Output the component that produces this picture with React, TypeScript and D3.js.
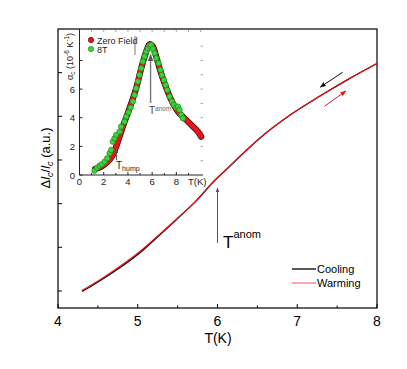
import * as d3 from "d3";

// main curve: relative length change vs temperature
const mainT = [4.3, 4.46, 4.71, 5.05, 5.22, 5.47, 5.72, 5.97, 6.12, 6.28, 6.53, 6.91, 7.29, 7.66, 8.0];
const warming = [0.01, 0.18, 0.48, 0.94, 1.21, 1.62, 2.04, 2.54, 2.8, 3.08, 3.5, 4.03, 4.47, 4.87, 5.21];
const cooling = [-0.01, 0.16, 0.45, 0.91, 1.19, 1.61, 2.04, 2.54, 2.8, 3.08, 3.5, 4.03, 4.47, 4.87, 5.21];
const mainXTicks = [4, 5, 6, 7, 8];
const mainXMinor = [4.5, 5.5, 6.5, 7.5];
const mainYTicks = [0, 1, 2, 3, 4, 5];

// inset: thermal expansion coefficient
const zeroFieldT = [1.29, 1.79, 2.34, 2.75, 3.03, 3.58, 4.13, 4.68, 5.1, 5.51, 5.79, 6.06, 6.34, 6.61, 7.02, 7.58, 8.13, 8.68, 9.23, 9.78, 10.05];
const zeroFieldA = [0.42, 0.58, 0.93, 1.4, 1.98, 3.38, 4.66, 6.06, 7.46, 8.62, 9.14, 8.97, 8.27, 7.46, 6.41, 5.24, 4.43, 3.96, 3.5, 3.03, 2.68];
const field8T_T = [1.24, 1.46, 1.65, 1.85, 2.07, 2.29, 2.48, 2.62, 2.75, 2.89, 3.03, 3.31, 3.44, 3.72, 3.86, 4.05, 4.22, 4.41, 4.55, 4.68, 4.82, 4.96, 5.1, 5.23, 5.37, 5.51, 5.65, 5.79, 5.92, 6.06, 6.2, 6.34, 6.53, 6.69, 6.8, 6.97, 7.11, 7.25, 7.44, 7.63, 7.8, 7.99, 8.13, 8.26, 8.4, 8.54];
const field8T_A = [0.3, 0.51, 0.65, 0.75, 0.93, 1.17, 1.52, 1.75, 2.33, 2.56, 2.8, 3.03, 3.38, 3.73, 4.08, 4.38, 4.71, 5.13, 5.59, 6.06, 6.53, 6.99, 7.46, 7.93, 8.28, 8.62, 8.86, 9.04, 9.09, 8.81, 8.51, 8.16, 7.81, 7.34, 6.99, 6.64, 6.29, 5.94, 5.48, 5.13, 4.9, 4.71, 4.78, 4.55, 4.2, 3.96];
const insetXTicks = [0, 2, 4, 6, 8];
const insetYTicks = [0, 2, 4, 6];
const insetMinor = [1, 2, 3, 4, 5, 6, 7, 8, 9, 10];

const FONT = "'Liberation Sans', Arial, sans-serif";

export default function App() {
  const x = d3.scaleLinear().domain([4, 8]).range([58, 377]);
  const y = d3.scaleLinear().domain([-0.39, 6]).range([308, 29]);
  const ix = d3.scaleLinear().domain([0, 10.2]).range([79.5, 203]);
  const iy = d3.scaleLinear().domain([0, 10.2]).range([175, 29]);

  const mainLine = d3
    .line<number>()
    .x((_, i) => x(mainT[i]))
    .curve(d3.curveMonotoneX);
  const warmPath = mainLine.y((v) => y(v))(warming) as string;
  const coolPath = mainLine.y((v) => y(v))(cooling) as string;

  const zfPath = d3
    .line<number>()
    .x((t) => ix(t))
    .y((_, i) => iy(zeroFieldA[i]))
    .curve(d3.curveCatmullRom)(zeroFieldT) as string;

  return (
    <svg width={407} height={369} style={{ position: "absolute", left: 0, top: 0, background: "#fff" }} fontFamily={FONT}>
      <defs>
        <marker id="hk" viewBox="0 0 10 10" refX="9" refY="5" markerWidth="6" markerHeight="6" orient="auto">
          <path d="M0,1 L10,5 L0,9 z" fill="#111" />
        </marker>
        <marker id="hr" viewBox="0 0 10 10" refX="9" refY="5" markerWidth="6" markerHeight="6" orient="auto">
          <path d="M0,1 L10,5 L0,9 z" fill="#e8141c" />
        </marker>
        <marker id="hg" viewBox="0 0 10 10" refX="9" refY="5" markerWidth="5" markerHeight="6" orient="auto">
          <path d="M0,1 L10,5 L0,9 z" fill="#555" />
        </marker>
      </defs>

      {/* main frame */}
      <rect x={58} y={29} width={319} height={279} fill="none" stroke="#000" strokeWidth={1.2} />
      {mainXTicks.map((t) => (
        <g key={"mx" + t}>
          <line x1={x(t)} x2={x(t)} y1={308} y2={304} stroke="#000" />
          <text x={x(t)} y={326} fontSize={14} textAnchor="middle">{t}</text>
        </g>
      ))}
      {mainXMinor.map((t) => (
        <line key={"mm" + t} x1={x(t)} x2={x(t)} y1={308} y2={305.5} stroke="#000" />
      ))}
      {mainYTicks.map((v) => (
        <line key={"my" + v} x1={58} x2={62} y1={y(v)} y2={y(v)} stroke="#000" />
      ))}
      <text x={218} y={343} fontSize={14} textAnchor="middle">T(K)</text>
      <text transform="translate(50,158) rotate(-90)" fontSize={13} textAnchor="middle">
        Δ<tspan fontStyle="italic">l</tspan>
        <tspan fontSize={9} dy={3} fontStyle="italic">c</tspan>
        <tspan dy={-3}>/</tspan>
        <tspan fontStyle="italic">l</tspan>
        <tspan fontSize={9} dy={3} fontStyle="italic">c</tspan>
        <tspan dy={-3}> (a.u.)</tspan>
      </text>

      {/* main curves */}
      <path d={coolPath} fill="none" stroke="#000" strokeWidth={1.3} />
      <path d={warmPath} fill="none" stroke="#e8141c" strokeWidth={1.2} />

      {/* direction arrows */}
      <line x1={x(7.57)} y1={y(5.01)} x2={x(7.29)} y2={y(4.67)} stroke="#111" strokeWidth={1} markerEnd="url(#hk)" />
      <line x1={x(7.34)} y1={y(4.23)} x2={x(7.61)} y2={y(4.58)} stroke="#e8141c" strokeWidth={1} markerEnd="url(#hr)" />

      {/* T anom annotation */}
      <line x1={x(6)} x2={x(6)} y1={y(1.1)} y2={y(2.36)} stroke="#555" strokeWidth={1} markerEnd="url(#hg)" />
      <text x={223} y={248} fontSize={17}>T<tspan fontSize={11} dy={-10}>anom</tspan></text>

      {/* legend */}
      <line x1={292} x2={316} y1={269} y2={269} stroke="#000" strokeWidth={1.3} />
      <text x={317} y={273} fontSize={11}>Cooling</text>
      <line x1={292} x2={316} y1={283} y2={283} stroke="#f77" strokeWidth={1.3} />
      <text x={317} y={287} fontSize={11}>Warming</text>

      {/* inset axes */}
      <line x1={79.5} x2={79.5} y1={29} y2={175} stroke="#222" strokeWidth={1} />
      <line x1={79.5} x2={203} y1={175} y2={175} stroke="#222" strokeWidth={1} />
      {insetXTicks.map((t) => (
        <g key={"ix" + t}>
          <line x1={ix(t)} x2={ix(t)} y1={175} y2={172} stroke="#222" />
          <text x={ix(t)} y={185} fontSize={9.5} textAnchor="middle" fill="#222">{t}</text>
        </g>
      ))}
      <text x={188} y={185} fontSize={9.5} fill="#222">T(K)</text>
      {insetYTicks.map((v) => (
        <g key={"iy" + v}>
          <line x1={79.5} x2={82.5} y1={iy(v)} y2={iy(v)} stroke="#222" />
          <text x={75} y={iy(v) + 3.5} fontSize={9.5} textAnchor="end" fill="#222">{v}</text>
        </g>
      ))}
      <line x1={79.5} x2={82.5} y1={iy(8)} y2={iy(8)} stroke="#222" />
      {insetMinor.map((v) => (
        <g key={"im" + v}>
          <line x1={ix(v)} x2={ix(v)} y1={30} y2={32} stroke="#aaa" />
          {v < 10 && <line x1={200.5} x2={203} y1={iy(v)} y2={iy(v)} stroke="#aaa" />}
          {v % 2 === 1 && <line x1={ix(v)} x2={ix(v)} y1={175} y2={173} stroke="#222" />}
        </g>
      ))}
      <text transform="translate(73,80) rotate(-90)" fontSize={9} fill="#222">
        α<tspan fontSize={6.5} dy={2}>c</tspan>
        <tspan dy={-2}> (10</tspan>
        <tspan fontSize={6.5} dy={-4}>-6</tspan>
        <tspan dy={4}> K</tspan>
        <tspan fontSize={6.5} dy={-4}>-1</tspan>
        <tspan dy={4}>)</tspan>
      </text>

      {/* inset data */}
      <path d={zfPath} fill="none" stroke="#3a0a0a" strokeWidth={6.2} strokeLinecap="round" />
      <path d={zfPath} fill="none" stroke="#e8141c" strokeWidth={4.8} strokeLinecap="round" />
      {field8T_T.map((t, i) => (
        <circle key={"g" + i} cx={ix(t)} cy={iy(field8T_A[i])} r={2.7} fill="#3ad43a" stroke="#1b8a1b" strokeWidth={0.7} />
      ))}

      {/* inset legend */}
      <circle cx={91} cy={40} r={2.7} fill="#e8141c" stroke="#600" strokeWidth={0.6} />
      <text x={97} y={43.5} fontSize={9} fill="#222">Zero Field</text>
      <circle cx={91} cy={49} r={2.7} fill="#3ad43a" stroke="#1b8a1b" strokeWidth={0.6} />
      <text x={97} y={52.5} fontSize={9} fill="#222">8T</text>
      <line x1={135} x2={135} y1={36} y2={55} stroke="#555" strokeWidth={0.8} />

      {/* inset annotations */}
      <line x1={ix(5.87)} x2={ix(5.87)} y1={iy(5.03)} y2={iy(8.4)} stroke="#777" strokeWidth={1.4} markerEnd="url(#hg)" />
      <text x={149} y={114} fontSize={10} fill="#444">T<tspan fontSize={6.5} dy={-3} fill="#666">anom</tspan></text>
      <line x1={ix(3.06)} x2={ix(3.06)} y1={iy(1.05)} y2={iy(1.82)} stroke="#555" strokeWidth={1} markerEnd="url(#hg)" />
      <text x={116} y={169} fontSize={10} fill="#222">T<tspan fontSize={7} dy={2}>hump</tspan></text>
    </svg>
  );
}
